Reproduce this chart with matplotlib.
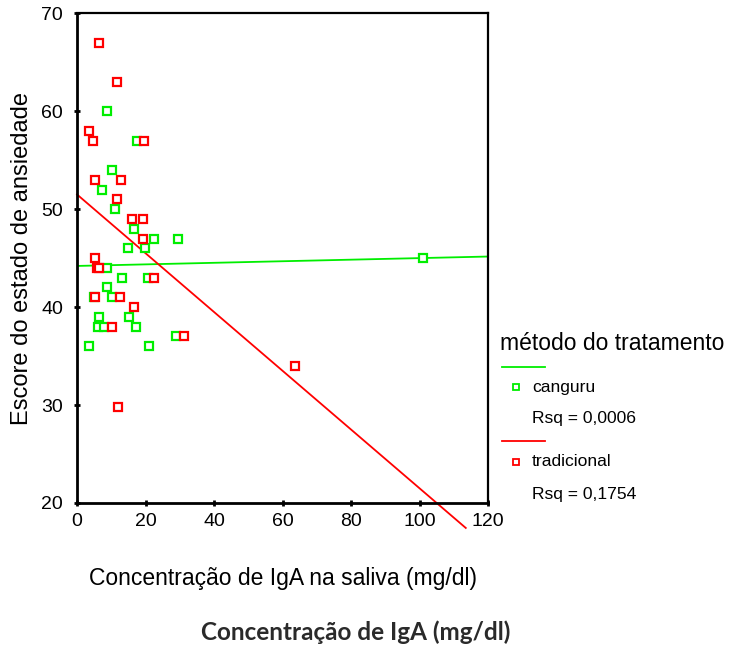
import numpy as np
import matplotlib.pyplot as plt
from matplotlib.lines import Line2D

plt.rcParams['font.family'] = ['Liberation Sans', 'DejaVu Sans']

# IgA (mg/dl) and anxiety score, by treatment group
canguru_iga = [8.7, 17.6, 10.1, 7.4, 11.1, 16.7, 22.4, 29.4, 14.8, 19.9, 8.7,
               13.0, 20.8, 8.7, 4.9, 10.1, 6.3, 15.3, 6.2, 8.0, 17.1, 28.9,
               3.5, 20.9, 101.1]
canguru_score = [60, 57, 54, 52, 50, 48, 47, 47, 46, 46, 44,
                 43, 43, 42, 41, 41, 39, 39, 38, 38, 38, 37,
                 36, 36, 45]

tradicional_iga = [6.4, 11.6, 3.5, 4.6, 19.5, 5.4, 12.9, 11.6, 16.2, 19.4,
                   19.4, 5.4, 5.8, 6.4, 22.4, 5.4, 12.5, 16.7, 10.1, 31.2,
                   11.9, 63.6]
tradicional_score = [67, 63, 58, 57, 57, 53, 53, 51, 49, 49,
                     47, 45, 44, 44, 43, 41, 41, 40, 38, 37,
                     29.8, 34]

# linear fits (intercept, slope)
canguru_fit = (44.2, 0.008)
tradicional_fit = (51.5, -0.3)

GREEN = '#00ee00'
RED = '#ff0000'

fig = plt.figure(figsize=(7.34, 6.49), dpi=100)
ax = fig.add_axes([0.1049, 0.225, 0.56, 0.7546])

xs = np.array([0, 120])
ax.plot(xs, canguru_fit[0] + canguru_fit[1] * xs, color=GREEN, lw=1.3, zorder=2)
xr = np.array([0, 113.5])
ax.plot(xr, tradicional_fit[0] + tradicional_fit[1] * xr, color=RED, lw=1.3,
        zorder=2, clip_on=False)

mk = dict(marker='s', ls='none', markersize=6, markerfacecolor='white',
          markeredgewidth=1.6, zorder=3)
ax.plot(canguru_iga, canguru_score, markeredgecolor=GREEN, **mk)
ax.plot(tradicional_iga, tradicional_score, markeredgecolor=RED, **mk)

ax.set_xlim(0, 120)
ax.set_ylim(20, 70)
ax.set_xticks(range(0, 121, 20))
ax.set_yticks(range(20, 71, 10))
ax.tick_params(direction='inout', length=4, width=2, labelsize=14)
ax.tick_params(axis='x', pad=5)
ax.tick_params(axis='y', pad=8)
for s in ax.spines.values():
    s.set_linewidth(1.6)
ax.spines['left'].set_linewidth(2)
ax.spines['bottom'].set_linewidth(2)

ax.set_xlabel('Concentração de IgA na saliva (mg/dl)', fontsize=16.5, labelpad=27)
ax.set_ylabel('Escore do estado de ansiedade', fontsize=17, labelpad=6)

# legend
W, H = 734, 649
def fx(px): return px / W
def fy(py): return 1 - py / H

fig.text(fx(500), fy(343), 'método do tratamento', fontsize=16.5, va='center')
fig.add_artist(Line2D([fx(502), fx(545)], [fy(367), fy(367)], color=GREEN, lw=1.3))
fig.add_artist(Line2D([fx(516)], [fy(387)], marker='s', markersize=4.5,
                      markerfacecolor='white', markeredgecolor=GREEN, markeredgewidth=1.3))
fig.text(fx(532), fy(387), 'canguru', fontsize=12.6, va='center')
fig.text(fx(532), fy(419), 'Rsq = 0,0006', fontsize=12.6, va='center')
fig.add_artist(Line2D([fx(502), fx(545)], [fy(441), fy(441)], color=RED, lw=1.3))
fig.add_artist(Line2D([fx(516)], [fy(462)], marker='s', markersize=4.5,
                      markerfacecolor='white', markeredgecolor=RED, markeredgewidth=1.3))
fig.text(fx(532), fy(462), 'tradicional', fontsize=12.6, va='center')
fig.text(fx(532), fy(494), 'Rsq = 0,1754', fontsize=12.6, va='center')

fig.text(fx(510), fy(632), 'Concentração de IgA (mg/dl)', fontsize=17.5,
         family=['Lato', 'DejaVu Sans'], fontweight='bold', color='#2a2a2a',
         ha='right', va='center')

fig.savefig('out.png', dpi=100)
